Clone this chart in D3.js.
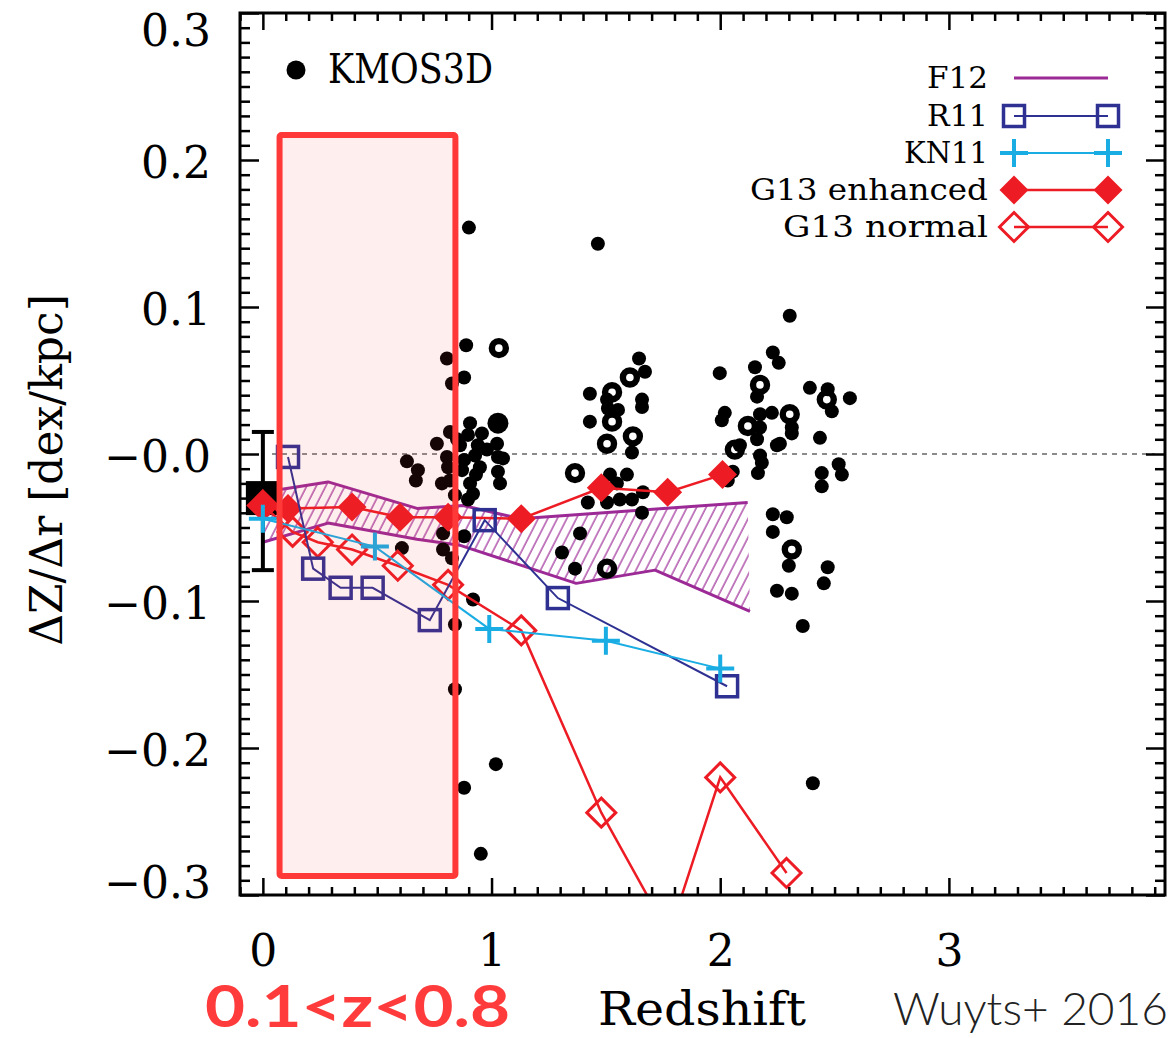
<!DOCTYPE html>
<html>
<head>
<meta charset="utf-8">
<script src="https://cdn.jsdelivr.net/npm/d3@7"></script>
<style>
  body { margin: 0; background: #fff; }
  svg { display: block; }
</style>
</head>
<body>
<svg id="chart" width="1176" height="1038"></svg>
<script>
// ---------------- data ----------------
const xTicks = [0, 1, 2, 3];
const xTickLabels = ["0", "1", "2", "3"];
const yTicks = [-0.3, -0.2, -0.1, 0, 0.1, 0.2, 0.3];
const yTickLabels = ["\u22120.3", "\u22120.2", "\u22120.1", "\u22120.0", "0.1", "0.2", "0.3"];

// KMOS3D galaxies: [redshift, gradient]
const kmosFilled = [
  [0.901,0.154],[0.889,0.074],[0.805,0.065],[0.880,0.052],[0.827,0.048],
  [0.906,0.021],[0.818,0.015],[0.958,0.014],[0.761,0.007],[0.897,0.013],[1.024,0.007],
  [0.630,-0.005],[0.678,-0.011],[0.669,-0.018],[0.805,-0.002],[0.810,-0.009],[0.880,-0.004],
  [0.949,-0.009],[1.028,-0.002],[1.028,-0.012],[1.037,-0.020],[0.783,-0.020],[0.818,-0.018],
  [0.906,-0.020],[0.919,-0.027],[0.897,-0.031],[0.788,-0.054],[0.788,-0.065],[0.827,-0.071],
  [0.608,-0.064],[0.919,-0.099],[0.840,-0.116],[0.840,-0.160],[1.019,-0.211],[0.880,-0.227],
  [0.953,-0.272],[0.940,0.006],[0.862,0.006],[1.050,-0.003],[0.880,-0.056],
  [0.849,0.010],[0.871,-0.011],[0.928,-0.001],[0.980,0.003],[0.840,-0.028],[0.932,-0.014],
  [1.465,0.143],[1.645,0.065],[1.671,0.056],[1.430,0.041],[1.505,0.037],[1.658,0.037],
  [1.658,0.032],[1.430,0.022],[1.553,0.030],[1.509,0.031],[1.614,0.001],[1.518,-0.014],
  [1.592,-0.014],[1.548,-0.020],[1.421,-0.033],[1.505,-0.033],[1.561,-0.031],[1.614,-0.031],
  [1.662,-0.026],[1.658,-0.040],[1.387,-0.054],[1.308,-0.067],[1.365,-0.078],
  [1.998,0.055],[2.152,0.059],[2.230,0.069],[2.256,0.062],[2.161,0.039],[2.020,0.028],
  [2.007,0.023],[2.174,0.027],[2.226,0.028],[2.313,0.018],[2.313,0.014],[2.174,0.018],
  [2.161,0.010],[2.174,-0.001],[2.182,-0.006],[2.165,-0.013],[2.086,0.006],[2.248,0.006],
  [2.261,0.007],[2.055,-0.012],[2.033,-0.018],[2.392,0.045],[2.470,0.044],[2.567,0.038],
  [2.488,0.029],[2.436,0.011],[2.518,-0.007],[2.532,-0.014],[2.444,-0.013],[2.444,-0.022],
  [2.230,-0.041],[2.291,-0.043],[2.230,-0.053],[2.300,-0.076],[2.470,-0.077],[2.453,-0.088],
  [2.248,-0.093],[2.313,-0.095],[2.361,-0.117],[2.304,0.094],[2.405,-0.224]
];
const kmosLarge = [[1.028,0.021]];
const kmosOpen = [
  [1.032,0.072],[1.605,0.052],[1.527,0.042],[1.527,0.022],[1.618,0.012],[1.505,0.007],
  [1.365,-0.013],[1.505,-0.078],[2.174,0.047],[2.121,0.019],[2.304,0.027],[2.064,0.003],
  [2.466,0.037],[2.313,-0.065]
];

// local (z~0) reference value with its range
const localZ = 0;
const localValue = -0.030;
const localLow = -0.079;
const localHigh = 0.015;

// F12 model envelope
const f12UpperZ = [0.0, 0.285, 0.674, 0.875, 1.124, 2.12];
const f12UpperV = [-0.026, -0.019, -0.037, -0.035, -0.044, -0.033];
const f12LowerZ = [0.0, 0.285, 0.674, 0.86, 1.37, 1.715, 2.13];
const f12LowerV = [-0.060, -0.047, -0.058, -0.062, -0.088, -0.079, -0.107];

// R11 model
const r11Z = [0.11, 0.22, 0.34, 0.48, 0.73, 0.97, 1.29, 2.03];
const r11V = [-0.002, -0.078, -0.091, -0.091, -0.113, -0.045, -0.098, -0.158];

// KN11 model
const kn11Z = [0.0, 0.49, 0.99, 1.50, 2.00];
const kn11V = [-0.044, -0.063, -0.119, -0.127, -0.146];

// G13 enhanced feedback
const g13eZ = [0.0, 0.11, 0.39, 0.60, 0.81, 1.13, 1.48, 1.77, 2.01];
const g13eV = [-0.035, -0.037, -0.036, -0.043, -0.043, -0.044, -0.023, -0.026, -0.014];

// G13 normal feedback
const g13nZ = [0.0, 0.13, 0.24, 0.39, 0.59, 0.81, 1.13, 1.48, 1.776, 2.00, 2.29];
const g13nV = [-0.035, -0.053, -0.060, -0.065, -0.076, -0.089, -0.120, -0.244, -0.327, -0.220, -0.285];

// highlighted redshift window
const windowZ = [0.073, 0.842];
const windowV = [-0.287, 0.217];

// ---------------- drawing ----------------
const PURPLE = "#9C2A96", NAVY = "#2E3192", CYAN = "#1AADE4", RED = "#ED1C24", BOX = "#FF3838";
const SERIF = "'DejaVu Serif', 'Liberation Serif', serif";

const svg = d3.select("#chart");
const x = d3.scaleLinear().domain([-0.1, 3.945]).range([240, 1165]);
const y = d3.scaleLinear().domain([-0.3, 0.3]).range([895, 13]);
const [X0, X1] = x.range();
const [Y1, Y0] = y.range();

const defs = svg.append("defs");
defs.append("clipPath").attr("id", "plotClip")
  .append("rect").attr("x", X0).attr("y", Y0).attr("width", X1 - X0).attr("height", Y1 - Y0);
const hatch = defs.append("pattern").attr("id", "hatch")
  .attr("patternUnits", "userSpaceOnUse").attr("width", 8.5).attr("height", 20)
  .attr("patternTransform", "rotate(27)");
hatch.append("line").attr("x1", 1).attr("x2", 1).attr("y1", 0).attr("y2", 20)
  .attr("stroke", PURPLE).attr("stroke-width", 1.2);

const plot = svg.append("g").attr("clip-path", "url(#plotClip)");

// zero-gradient reference
plot.append("line")
  .attr("x1", x(0.04)).attr("x2", x(3.9)).attr("y1", y(0)).attr("y2", y(0))
  .attr("stroke", "#666").attr("stroke-width", 1.6).attr("stroke-dasharray", "5,5");

// F12 hatched envelope
const upper = f12UpperZ.map((z, i) => [z, f12UpperV[i]]);
const lower = f12LowerZ.map((z, i) => [z, f12LowerV[i]]);
const lineGen = d3.line().x(d => x(d[0])).y(d => y(d[1]));
plot.append("path").attr("d", lineGen(upper.concat(lower.slice().reverse())) + "Z")
  .attr("fill", "url(#hatch)").attr("stroke", "none");
[upper, lower].forEach(pts => plot.append("path").attr("d", lineGen(pts))
  .attr("fill", "none").attr("stroke", PURPLE).attr("stroke-width", 3).attr("stroke-linejoin", "round"));

// KMOS3D galaxies
plot.append("g").selectAll("circle").data(kmosFilled).join("circle")
  .attr("cx", d => x(d[0])).attr("cy", d => y(d[1])).attr("r", 7).attr("fill", "#000");
plot.append("g").selectAll("circle").data(kmosLarge).join("circle")
  .attr("cx", d => x(d[0])).attr("cy", d => y(d[1])).attr("r", 10.5).attr("fill", "#000");
plot.append("g").selectAll("circle").data(kmosOpen).join("circle")
  .attr("cx", d => x(d[0])).attr("cy", d => y(d[1])).attr("r", 7)
  .attr("fill", "none").attr("stroke", "#000").attr("stroke-width", 6.4);

// local value with range
const lg = plot.append("g").attr("stroke", "#000").attr("stroke-width", 4);
lg.append("line").attr("x1", x(localZ)).attr("x2", x(localZ)).attr("y1", y(localLow)).attr("y2", y(localHigh));
[localLow, localHigh].forEach(v => lg.append("line")
  .attr("x1", x(localZ) - 11).attr("x2", x(localZ) + 11).attr("y1", y(v)).attr("y2", y(v)));
plot.append("rect").attr("x", x(localZ) - 17).attr("y", y(localValue) - 17)
  .attr("width", 34).attr("height", 34).attr("fill", "#000");

// marker shapes
const diamondPath = s => `M0,${-s}L${s},0L0,${s}L${-s},0Z`;
const plusPath = s => `M${-s},0H${s}M0,${-s}V${s}`;

function drawSeries(zs, vs, color, width, marker) {
  const pts = zs.map((z, i) => [z, vs[i]]);
  const g = plot.append("g");
  g.append("path").attr("d", lineGen(pts)).attr("fill", "none")
    .attr("stroke", color).attr("stroke-width", width);
  const m = g.selectAll(".m").data(pts).join("g")
    .attr("transform", d => `translate(${x(d[0])},${y(d[1])})`);
  marker(m, color);
}
const openDiamond = (m, c) => m.append("path").attr("d", diamondPath(14.5))
  .attr("fill", "none").attr("stroke", c).attr("stroke-width", 3);
const filledDiamond = (m, c) => m.append("path").attr("d", diamondPath(14.5)).attr("fill", c);
const openSquare = (m, c) => m.append("rect").attr("x", -10.5).attr("y", -10.5)
  .attr("width", 21).attr("height", 21).attr("fill", "none").attr("stroke", c).attr("stroke-width", 3.5);
const plusMark = (m, c) => m.append("path").attr("d", plusPath(14))
  .attr("fill", "none").attr("stroke", c).attr("stroke-width", 4);

drawSeries(g13nZ, g13nV, RED, 2.5, openDiamond);
drawSeries(g13eZ, g13eV, RED, 2.5, filledDiamond);
drawSeries(r11Z, r11V, NAVY, 2, openSquare);
drawSeries(kn11Z, kn11V, CYAN, 2, plusMark);

// highlighted redshift window
svg.append("rect")
  .attr("x", x(windowZ[0])).attr("y", y(windowV[1]))
  .attr("width", x(windowZ[1]) - x(windowZ[0])).attr("height", y(windowV[0]) - y(windowV[1]))
  .attr("rx", 2).attr("fill", "#FF3B3B").attr("fill-opacity", 0.085)
  .attr("stroke", BOX).attr("stroke-width", 6);

// ---------------- axes ----------------
const yMinor = d3.range(-30, 31).map(i => i / 100).filter(v => Math.abs(Math.round(v * 10) - v * 10) > 1e-6);
const xMinor = d3.range(-1, 40).map(i => i / 10).filter(v => Math.abs(Math.round(v) - v) > 1e-6);

function tickAxis(axis, tf) {
  const g = svg.append("g").attr("transform", tf).call(axis);
  g.select(".domain").remove();
  g.selectAll(".tick line").attr("stroke", "#000").attr("stroke-width", 2.5);
  return g;
}
tickAxis(d3.axisLeft(y).tickValues(yMinor).tickSize(-10).tickFormat(""), `translate(${X0},0)`);
tickAxis(d3.axisLeft(y).tickValues(yTicks).tickSize(-19).tickFormat(""), `translate(${X0},0)`);
tickAxis(d3.axisRight(y).tickValues(yMinor).tickSize(-10).tickFormat(""), `translate(${X1},0)`);
tickAxis(d3.axisRight(y).tickValues(yTicks).tickSize(-19).tickFormat(""), `translate(${X1},0)`);
tickAxis(d3.axisBottom(x).tickValues(xMinor).tickSize(-8).tickFormat(""), `translate(0,${Y1})`);
tickAxis(d3.axisBottom(x).tickValues(xTicks).tickSize(-17).tickFormat(""), `translate(0,${Y1})`);
tickAxis(d3.axisTop(x).tickValues(xMinor).tickSize(-8).tickFormat(""), `translate(0,${Y0})`);
tickAxis(d3.axisTop(x).tickValues(xTicks).tickSize(-17).tickFormat(""), `translate(0,${Y0})`);

svg.append("rect").attr("x", X0).attr("y", Y0).attr("width", X1 - X0).attr("height", Y1 - Y0)
  .attr("fill", "none").attr("stroke", "#000").attr("stroke-width", 3);

// tick labels
const yLab = svg.append("g").attr("transform", `translate(${X0},0)`)
  .call(d3.axisLeft(y).tickValues(yTicks).tickSize(0).tickPadding(29)
    .tickFormat((d, i) => yTickLabels[i]));
yLab.select(".domain").remove();
yLab.selectAll("text").attr("font-family", SERIF).attr("font-size", 44).attr("fill", "#000")
  .attr("dy", "0.36em")
  .attr("y", d => Math.min(Math.max(2, 30 - y(d)), 882 - y(d)));

const xLab = svg.append("g").attr("transform", `translate(0,${Y1})`)
  .call(d3.axisBottom(x).tickValues(xTicks).tickSize(0).tickFormat((d, i) => xTickLabels[i]));
xLab.select(".domain").remove();
xLab.selectAll("text").attr("font-family", SERIF).attr("font-size", 44).attr("fill", "#000")
  .attr("y", 71).attr("dy", 0);

// axis titles
svg.append("text").attr("transform", "translate(62,470) rotate(-90)")
  .attr("text-anchor", "middle").attr("font-family", SERIF).attr("font-size", 44)
  .text("\u0394Z/\u0394r [dex/kpc]");
svg.append("text").attr("x", 598).attr("y", 1025).attr("font-family", SERIF).attr("font-size", 46)
  .attr("textLength", 208).attr("lengthAdjust", "spacingAndGlyphs").text("Redshift");
svg.append("text").attr("x", 205).attr("y", 1027).attr("font-family", "Lato, 'Open Sans', sans-serif")
  .attr("font-weight", 700).attr("font-size", 58).attr("fill", "#FF3B3B")
  .attr("textLength", 305).attr("lengthAdjust", "spacingAndGlyphs").text("0.1<z<0.8");
svg.append("text").attr("x", 893).attr("y", 1025).attr("font-family", "Lato, 'Open Sans', sans-serif")
  .attr("font-weight", 300).attr("font-size", 46).attr("fill", "#222")
  .attr("textLength", 275).attr("lengthAdjust", "spacingAndGlyphs").text("Wuyts+ 2016");

// ---------------- legends ----------------
svg.append("circle").attr("cx", 296).attr("cy", 70).attr("r", 9.5).attr("fill", "#000");
svg.append("text").attr("x", 328).attr("y", 83).attr("font-family", SERIF).attr("font-size", 41)
  .attr("textLength", 165).attr("lengthAdjust", "spacingAndGlyphs").text("KMOS3D");

const legendRows = [
  { label: "F12", y: 78, color: PURPLE, width: 3, marker: null, tl: 61 },
  { label: "R11", y: 116, color: NAVY, width: 2, marker: openSquare, tl: 61 },
  { label: "KN11", y: 153, color: CYAN, width: 2, marker: plusMark, tl: 84 },
  { label: "G13 enhanced", y: 190, color: RED, width: 2.5, marker: filledDiamond, tl: 238 },
  { label: "G13 normal", y: 227, color: RED, width: 2.5, marker: openDiamond, tl: 205 }
];
const lx0 = 1014, lx1 = 1108;
legendRows.forEach(r => {
  const g = svg.append("g");
  g.append("text").attr("x", 988).attr("y", r.y + 10).attr("text-anchor", "end")
    .attr("font-family", SERIF).attr("font-size", 29)
    .attr("textLength", r.tl).attr("lengthAdjust", "spacingAndGlyphs").text(r.label);
  g.append("line").attr("x1", lx0).attr("x2", lx1).attr("y1", r.y).attr("y2", r.y)
    .attr("stroke", r.color).attr("stroke-width", r.width);
  if (r.marker) {
    const m = g.selectAll(".m").data([lx0, lx1]).join("g")
      .attr("transform", d => `translate(${d},${r.y})`);
    r.marker(m, r.color);
  }
});
</script>
</body>
</html>
